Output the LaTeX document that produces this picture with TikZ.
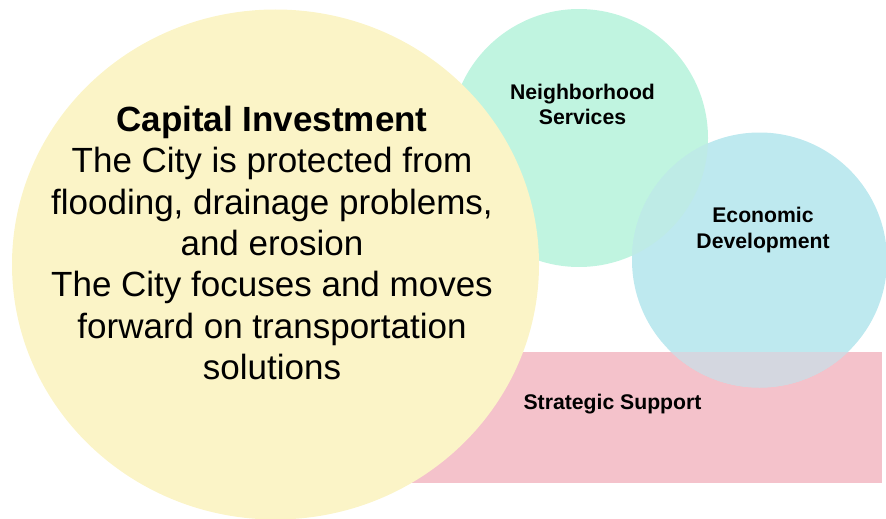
\documentclass[tikz,border=0pt]{standalone}
\usepackage{fontspec}
\setmainfont{Liberation Sans}
\definecolor{cyellow}{HTML}{FBF4C7}
\definecolor{cgreen}{HTML}{C0F4E0}
\definecolor{cblue}{HTML}{BEE9EF}
\definecolor{cpink}{HTML}{F4C2CB}
\definecolor{cgb}{HTML}{BEEBE6}
\definecolor{cbp}{HTML}{D4D7E0}
\tikzset{
  biglabel/.style={align=center, inner sep=0pt, font=\fontsize{35pt}{41.3pt}\selectfont},
  smalllabel/.style={align=center, inner sep=0pt, font=\fontsize{21.2pt}{25.5pt}\selectfont\bfseries},
}
\begin{document}
\begin{tikzpicture}[x=1pt,y=-1pt]
\useasboundingbox (0,0) rectangle (886,519);
% pink rectangle
\fill[cpink] (400,352) rectangle (882,483);
% green circle
\fill[cgreen] (579,138) circle[radius=129pt];
% blue circle
\fill[cblue] (759.5,260) circle[radius=127.5pt];
% overlaps
\begin{scope}
  \clip (579,138) circle[radius=129pt];
  \fill[cgb] (759.5,260) circle[radius=127.5pt];
\end{scope}
\begin{scope}
  \clip (400,352) rectangle (882,483);
  \fill[cbp] (759.5,260) circle[radius=127.5pt];
\end{scope}
% yellow ellipse
\fill[cyellow] (275.5,264.5) ellipse[x radius=263.5pt, y radius=255pt];
% texts
\node[biglabel, anchor=north] (capital) at (272,106) {\textbf{Capital Investment}\\The City is protected from\\flooding, drainage problems,\\and erosion\\The City focuses and moves\\forward on transportation\\solutions};
\node[smalllabel, anchor=north] (neigh) at (582.5,83.8) {Neighborhood\\Services};
\node[smalllabel, anchor=north] (econ) at (763,207.1) {Economic\\Development};
\node[smalllabel, anchor=base] (strat) at (612.5,409.3) {Strategic Support};
\end{tikzpicture}
\end{document}
